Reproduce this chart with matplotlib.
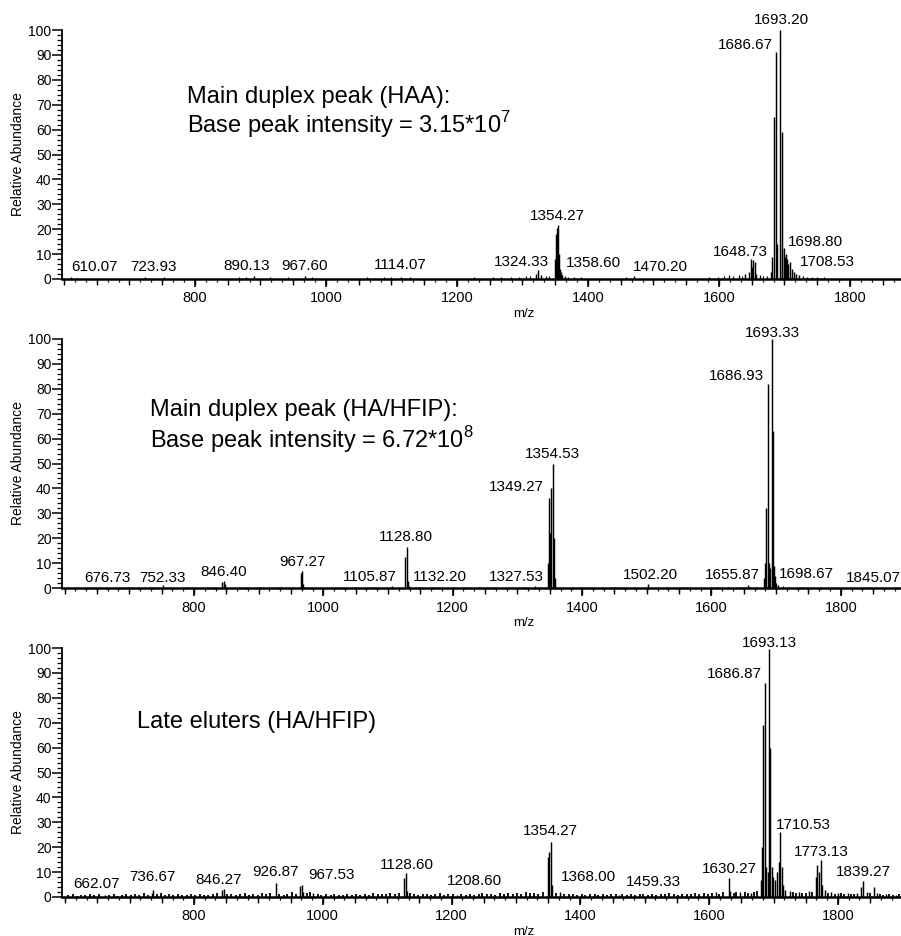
import numpy as np
import matplotlib
matplotlib.use("Agg")
import matplotlib.pyplot as plt
from matplotlib.ticker import MultipleLocator, FixedLocator

plt.rcParams['font.family'] = ['Liberation Sans', 'DejaVu Sans']
plt.rcParams['mathtext.fontset'] = 'custom'
plt.rcParams['mathtext.rm'] = 'Liberation Sans'

# ---------------- Panel 1: Main duplex peak (HAA) ----------------
p1_mz = [610.07, 723.93, 890.13, 967.60, 1114.07, 1320.5, 1324.33, 1327.8,
         1349.5, 1351.2, 1352.6, 1354.27, 1355.8, 1357.3, 1358.60, 1361.0, 1365.0,
         1470.20, 1640.5, 1645.6, 1648.73, 1650.6, 1652.3, 1654.5, 1657.0,
         1680.0, 1681.5, 1683.8, 1686.67, 1689.0, 1693.20,
         1695.6, 1697.0, 1698.80, 1700.5, 1702.2, 1704.0, 1706.0, 1708.53,
         1711.0, 1714.0, 1718.0, 1722.0, 1728.0, 1735.0]
p1_int = [1.0, 1.0, 1.2, 1.2, 1.0, 2.0, 3.8, 1.8,
          8.0, 18.0, 20.5, 21.5, 10.0, 4.0, 3.0, 1.8, 1.2,
          1.2, 2.0, 3.0, 8.0, 5.0, 7.5, 7.0, 2.0,
          3.0, 9.0, 65.0, 91.0, 14.0, 100.0,
          59.0, 12.0, 12.5, 9.0, 10.0, 8.0, 6.0, 7.0,
          4.0, 3.0, 2.0, 1.5, 1.2, 1.0]
p1_noise_mz = [620, 633, 648, 662, 675, 690, 705, 740, 752, 765, 778, 792, 810, 826, 842,
               855, 868, 878, 902, 915, 928, 942, 955, 978, 985, 998, 1012, 1030, 1048,
               1062, 1075, 1088, 1100, 1128, 1140, 1152, 1168, 1182, 1195, 1210, 1226,
               1240, 1255, 1268, 1282, 1295, 1305, 1312, 1336, 1340, 1370, 1378, 1390,
               1405, 1418, 1432, 1445, 1458, 1482, 1495, 1510, 1525, 1540, 1555, 1570,
               1585, 1598, 1608, 1615, 1622, 1630, 1635, 1662, 1668, 1673, 1742, 1750,
               1760, 1772, 1785, 1798, 1812, 1825, 1840, 1855, 1868]
p1_noise_int = [0.5, 0.4, 0.6, 0.5, 0.4, 0.6, 0.5, 0.6, 0.8, 0.5, 0.4, 0.5, 0.4, 0.5, 0.6,
                0.5, 0.7, 0.8, 0.6, 0.7, 0.5, 0.8, 0.6, 0.9, 0.6, 0.5, 0.6, 0.5, 0.6,
                0.7, 0.6, 0.8, 0.7, 0.8, 0.6, 0.5, 0.6, 0.5, 0.6, 0.5, 0.7,
                0.6, 0.8, 0.7, 0.9, 1.0, 1.2, 1.4, 1.1, 1.3, 1.0, 0.8, 0.7,
                0.6, 0.5, 0.6, 0.5, 0.7, 0.6, 0.5, 0.6, 0.5, 0.6, 0.5, 0.6,
                0.8, 1.0, 1.3, 1.5, 1.4, 1.6, 1.2, 1.5, 1.2, 1.4, 0.9, 0.8,
                0.7, 0.6, 0.5, 0.6, 0.5, 0.4, 0.5, 0.4, 0.5]
p1_labels = ['610.07', '723.93', '890.13', '967.60', '1114.07', '1324.33', '1354.27',
             '1358.60', '1470.20', '1648.73', '1686.67', '1693.20', '1698.80', '1708.53']
p1_lab_x = [647, 736, 879, 968, 1114, 1298, 1354, 1409, 1510, 1632, 1641, 1696, 1748, 1766]
p1_lab_y = [4.8, 4.8, 5.4, 5.2, 5.6, 6.8, 25.3, 6.4, 4.8, 10.8, 94.0, 104.0, 15.0, 7.0]

# ---------------- Panel 2: Main duplex peak (HA/HFIP) ----------------
p2_mz = [676.73, 752.33, 843.5, 846.40, 848.0, 964.9, 967.27, 969.0, 1105.87,
         1125.6, 1128.80, 1130.5, 1132.20, 1327.53, 1347.6, 1349.27, 1351.0, 1352.6,
         1354.53, 1356.2, 1358.0, 1502.20, 1655.87, 1680.8, 1682.4, 1684.1,
         1686.93, 1688.6, 1690.5, 1693.33, 1695.2, 1697.0, 1698.67, 1700.5,
         1703.0, 1845.07]
p2_int = [0.6, 1.2, 2.5, 3.0, 1.5, 6.0, 7.0, 1.5, 0.8,
          12.5, 16.5, 3.0, 1.0, 0.8, 10.0, 36.0, 22.0, 40.0,
          50.0, 20.0, 4.0, 1.5, 1.2, 4.0, 10.0, 32.0,
          82.0, 10.0, 8.0, 100.0, 63.0, 9.0, 5.0, 2.0,
          1.2, 0.6]
p2_noise_mz = [620, 640, 700, 730, 760, 790, 820, 870, 900, 935, 990, 1010, 1050, 1080,
               1150, 1170, 1200, 1240, 1290, 1310, 1370, 1400, 1450, 1530, 1560, 1600,
               1625, 1660, 1670, 1710, 1720, 1740, 1780, 1820, 1860]
p2_noise_int = [0.3, 0.2, 0.3, 0.3, 0.4, 0.3, 0.3, 0.3, 0.3, 0.4, 0.5, 0.4, 0.3, 0.4,
                0.5, 0.3, 0.3, 0.4, 0.4, 0.5, 0.5, 0.3, 0.3, 0.3, 0.3, 0.4,
                0.5, 0.6, 0.5, 0.7, 0.5, 0.3, 0.3, 0.3, 0.3]
p2_labels = ['676.73', '752.33', '846.40', '967.27', '1105.87', '1128.80', '1132.20',
             '1327.53', '1349.27', '1354.53', '1502.20', '1655.87', '1686.93', '1693.33',
             '1698.67', '1845.07']
p2_lab_x = [666, 752, 846, 967, 1072, 1128, 1180, 1298, 1298, 1354, 1505, 1633, 1639,
            1695, 1747, 1851]
p2_lab_y = [4.0, 4.0, 6.4, 10.4, 4.4, 20.5, 4.4, 4.4, 40.5, 54.0, 5.2, 5.2, 85.0,
            102.4, 5.6, 4.0]

# ---------------- Panel 3: Late eluters (HA/HFIP) ----------------
p3_mz = [662.07, 734.5, 736.67, 843.5, 846.27, 926.87, 964.8, 967.53, 970.0, 985.0,
         1125.5, 1128.60, 1130.5, 1208.60, 1349.5, 1351.5, 1354.27, 1356.0, 1368.00,
         1459.33, 1610.0, 1630.27, 1633.0, 1648.0, 1665.0, 1680.8, 1682.6, 1684.3,
         1686.87, 1689.0, 1690.8, 1693.13, 1695.0, 1697.0, 1699.0, 1702.0,
         1705.5, 1708.5, 1710.53, 1712.5, 1715.0, 1718.0, 1725.0, 1740.0, 1755.0,
         1765.5, 1767.8, 1770.6, 1773.13, 1776.0, 1780.0, 1790.0, 1800.0, 1815.0,
         1830.0, 1836.5, 1839.27, 1845.0, 1855.5, 1860.0, 1875.0, 1890.0]
p3_int = [0.8, 1.5, 3.0, 3.0, 3.2, 5.8, 4.5, 5.0, 2.0, 1.5,
          7.5, 9.5, 2.5, 1.0, 16.0, 18.0, 22.0, 5.0, 2.0,
          0.8, 2.0, 7.5, 2.5, 2.0, 1.8, 7.0, 20.0, 69.0,
          86.0, 12.0, 10.0, 99.5, 60.0, 12.0, 8.0, 7.0,
          10.0, 14.0, 26.0, 12.0, 5.0, 3.0, 2.5, 2.0, 2.5,
          8.0, 13.0, 10.0, 15.0, 5.0, 3.0, 2.0, 1.8, 1.5,
          1.5, 4.0, 6.5, 2.0, 4.0, 1.5, 1.2, 1.0]
p3_noise_mz = [605, 612, 618, 625, 631, 638, 645, 652, 668, 675, 681, 688, 695, 702, 708,
               715, 722, 728, 742, 748, 755, 761, 768, 775, 782, 789, 795, 802, 809, 815,
               822, 829, 835, 852, 858, 865, 872, 879, 885, 892, 899, 905, 912, 918, 932,
               939, 945, 952, 958, 975, 980, 992, 998, 1005, 1012, 1018, 1025, 1032, 1038,
               1045, 1052, 1058, 1065, 1072, 1078, 1085, 1092, 1098, 1105, 1112, 1118,
               1135, 1142, 1148, 1155, 1162, 1168, 1175, 1182, 1188, 1195, 1202, 1215,
               1222, 1228, 1235, 1242, 1248, 1255, 1262, 1268, 1275, 1282, 1288, 1295,
               1302, 1308, 1315, 1322, 1328, 1335, 1342, 1362, 1375, 1382, 1388, 1395,
               1402, 1408, 1415, 1422, 1428, 1435, 1442, 1448, 1455, 1465, 1472, 1478,
               1485, 1492, 1498, 1505, 1512, 1518, 1525, 1532, 1538, 1545, 1552, 1558,
               1565, 1572, 1578, 1585, 1592, 1598, 1605, 1615, 1622, 1638, 1642, 1655,
               1660, 1670, 1675, 1730, 1735, 1745, 1750, 1760, 1785, 1795, 1805, 1810,
               1820, 1825, 1850, 1865, 1870, 1880, 1885, 1895]
p3_noise_int = [0.8, 1.2, 0.6, 1.0, 0.7, 1.3, 0.9, 1.1, 0.8, 1.2, 0.6, 1.0, 1.4, 0.9, 1.1,
                0.8, 1.5, 1.0, 1.2, 1.6, 0.9, 1.1, 0.8, 1.3, 1.0, 0.7, 1.2, 0.9, 1.4, 1.0,
                0.8, 1.2, 1.5, 1.1, 1.4, 0.9, 1.2, 1.6, 1.0, 1.3, 0.8, 1.5, 1.1, 1.8, 1.2,
                1.0, 1.4, 2.0, 1.3, 1.7, 2.2, 1.3, 1.0, 1.2, 0.9, 1.1, 0.8, 1.0, 1.2,
                0.9, 1.1, 0.8, 1.3, 1.0, 1.6, 1.2, 1.4, 1.1, 1.8, 1.3, 1.5,
                1.7, 1.2, 1.0, 1.4, 1.1, 0.9, 1.2, 1.5, 1.0, 1.3, 1.1, 1.2,
                0.9, 1.4, 1.0, 1.2, 1.6, 1.1, 1.3, 1.0, 1.5, 1.2, 1.8, 1.3,
                1.6, 1.2, 2.0, 1.5, 1.8, 1.4, 2.2, 1.8, 1.4, 1.1, 1.3, 1.0,
                1.2, 0.9, 1.1, 1.3, 1.0, 1.2, 0.9, 1.4, 1.1, 1.2, 1.0, 1.3,
                0.9, 1.1, 1.4, 1.0, 1.2, 0.9, 1.3, 1.1, 1.5, 1.2, 1.0, 1.4,
                1.1, 1.3, 1.6, 1.2, 1.8, 1.3, 1.5, 1.4, 2.2, 1.6, 1.9, 2.2,
                1.7, 2.0, 2.6, 2.0, 1.6, 1.8, 1.5, 1.9, 1.6, 1.3, 1.5, 1.2,
                1.4, 1.1, 1.5, 1.2, 1.0, 1.3, 0.9, 1.1]
p3_labels = ['662.07', '736.67', '846.27', '926.87', '967.53', '1128.60', '1208.60',
             '1354.27', '1368.00', '1459.33', '1630.27', '1686.87', '1693.13', '1710.53',
             '1773.13', '1839.27']
p3_lab_x = [649, 735, 839, 926, 1014, 1131, 1235, 1353, 1412, 1513, 1631, 1640, 1694,
            1747, 1775, 1840]
p3_lab_y = [5.2, 8.0, 6.8, 10.0, 8.8, 12.9, 6.4, 26.5, 8.0, 6.0, 11.2, 89.6, 102.0,
            29.0, 18.0, 10.0]

titles = [["Main duplex peak (HAA):", r"Base peak intensity = 3.15*10$^{\mathregular{7}}$"],
          ["Main duplex peak (HA/HFIP):", r"Base peak intensity = 6.72*10$^{\mathregular{8}}$"],
          ["Late eluters (HA/HFIP)"]]

# ---------------- Layout ----------------
W, H = 901, 936
fig = plt.figure(figsize=(W / 100, H / 100), dpi=100)

panels = [
    dict(mz=p1_mz, inten=p1_int, nmz=p1_noise_mz, nint=p1_noise_int,
         labels=p1_labels, lx=p1_lab_x, ly=p1_lab_y, xlim=(597, 1878),
         y0=279, ttx=788, tty=[70.7, 58.6], title=titles[0], nlw=0.9),
    dict(mz=p2_mz, inten=p2_int, nmz=p2_noise_mz, nint=p2_noise_int,
         labels=p2_labels, lx=p2_lab_x, ly=p2_lab_y, xlim=(596, 1893),
         y0=588, ttx=732, tty=[69.0, 56.2], title=titles[1], nlw=0.9),
    dict(mz=p3_mz, inten=p3_int, nmz=p3_noise_mz, nint=p3_noise_int,
         labels=p3_labels, lx=p3_lab_x, ly=p3_lab_y, xlim=(595, 1898),
         y0=897, ttx=711, tty=[68.0], title=titles[2], nlw=1.3),
]

left_px = 62
for p in panels:
    ax_h = 249
    ax = fig.add_axes([left_px / W, 1 - p['y0'] / H, 1 - left_px / W, ax_h / H])
    ax.set_xlim(*p['xlim'])
    ax.set_ylim(0, 100)

    ax.vlines(p['nmz'], 0, p['nint'], color='black', lw=p['nlw'])
    ax.vlines(p['mz'], 0, p['inten'], color='black', lw=1.05)

    for t, x, y in zip(p['labels'], p['lx'], p['ly']):
        ax.text(x, y, t, ha='center', va='center', fontsize=11, clip_on=False)

    for i, line in enumerate(p['title']):
        ax.text(p['ttx'], p['tty'][i], line, ha='left', va='baseline', fontsize=17)

    for s in ['top', 'right']:
        ax.spines[s].set_visible(False)
    ax.spines['left'].set_linewidth(1.3)
    ax.spines['bottom'].set_linewidth(1.8)

    ax.yaxis.set_major_locator(MultipleLocator(10))
    ax.yaxis.set_minor_locator(MultipleLocator(2))
    ax.xaxis.set_major_locator(FixedLocator(np.arange(800, 1801, 200)))
    ax.xaxis.set_minor_locator(FixedLocator(np.arange(600, 1901, 50 / 3)))
    ax.tick_params(axis='y', which='major', direction='out', length=7, width=1.1,
                   labelsize=10, pad=0.5)
    ax.tick_params(axis='y', which='minor', direction='out', length=3.5, width=0.9)
    ax.tick_params(axis='x', which='major', direction='out', length=6, width=1.2,
                   labelsize=10.5, pad=3)
    ax.tick_params(axis='x', which='minor', direction='out', length=2.5, width=0.9)

    sec = ax.secondary_xaxis('bottom')
    sec.set_xticks(np.arange(600, 1901, 50))
    sec.set_xticklabels([])
    sec.tick_params(axis='x', which='major', direction='out', length=4.5, width=1.0)
    sec.spines['bottom'].set_visible(False)

    ax.text((18 - left_px) / (W - left_px), 0.5, "Relative Abundance", rotation=90,
            ha='center', va='center', fontsize=10, transform=ax.transAxes)
    ax.text((524 - left_px) / (W - left_px), -0.115, "m/z", ha='center', va='top',
            fontsize=9.5, transform=ax.transAxes)

fig.savefig("out.png", dpi=100)
